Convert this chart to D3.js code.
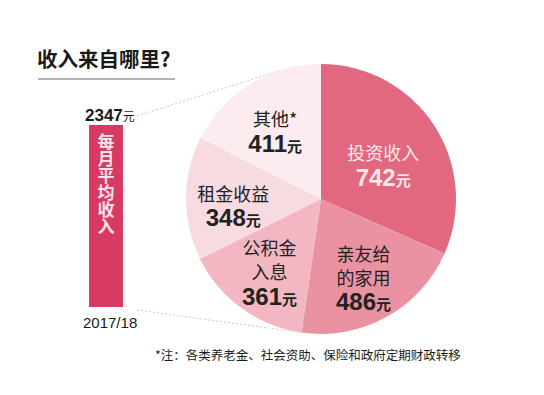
<!DOCTYPE html>
<html><head><meta charset="utf-8">
<script src="https://cdn.jsdelivr.net/npm/d3@7"></script>
<style>
html,body{margin:0;padding:0;background:#fff;}
svg{display:block;}
</style></head>
<body>
<script>
const title = "收入来自哪里?";
const totalLabel = "2347";
const totalValue = 2347;
const yearLabel = "2017/18";
const barLabel = "每月平均收入";
const categories = [["投资收入"], ["亲友给", "的家用"], ["公积金", "入息"], ["租金收益"], ["其他*"]];
const values = [742, 486, 361, 348, 411];
const colors = ["#e1687f", "#ea92a2", "#f2b7c2", "#f8dbe1", "#fcecef"];
const textColors = ["#fde9ed", "#222", "#222", "#222", "#222"];
const footnote = "*注：各类养老金、社会资助、保险和政府定期财政转移";

const W = 544, H = 395;
const cjk = "'Noto Sans CJK SC', sans-serif";
const num = "'Liberation Sans', Arial, sans-serif";
const svg = d3.select("body").append("svg").attr("width", W).attr("height", H);

// title
svg.append("text").attr("x", 37).attr("y", 67).text(title)
  .attr("font-family", cjk).attr("font-weight", 700).attr("font-size", 20.5).attr("fill", "#1a1a1a");
svg.append("line").attr("x1", 38).attr("x2", 175).attr("y1", 79).attr("y2", 79)
  .attr("stroke", "#9a9a9a").attr("stroke-width", 1.5);

// bar (total)
const barTop = 125, barBottom = 307, barX = 89, barW = 34;
const y = d3.scaleLinear().domain([0, totalValue]).range([barBottom, barTop]);

// pie geometry
const cx = 321, cy = 199, R = 135;

// dotted tangent lines
function tangent(px, py, upper) {
  const dx = cx - px, dy = cy - py;
  const d = Math.hypot(dx, dy);
  const base = Math.atan2(dy, dx);
  const off = Math.asin(R / d);
  const a = upper ? base - off : base + off;
  const L = Math.sqrt(d * d - R * R);
  return [px + L * Math.cos(a), py + L * Math.sin(a)];
}
const tTop = tangent(barX + barW + 14, y(totalValue) - 9, true);
const tBot = tangent(barX + barW + 14, y(0) + 3, false);
svg.append("line").attr("x1", barX + barW + 14).attr("y1", y(totalValue) - 9)
  .attr("x2", tTop[0]).attr("y2", tTop[1])
  .attr("stroke", "#c8c8c8").attr("stroke-width", 1).attr("stroke-dasharray", "2,2");
svg.append("line").attr("x1", barX + barW + 14).attr("y1", y(0) + 3)
  .attr("x2", tBot[0]).attr("y2", tBot[1])
  .attr("stroke", "#c8c8c8").attr("stroke-width", 1).attr("stroke-dasharray", "2,2");

svg.append("rect").attr("x", barX).attr("y", y(totalValue)).attr("width", barW)
  .attr("height", y(0) - y(totalValue)).attr("fill", "#d83a64");

const tl = svg.append("text").attr("x", 85).attr("y", 121)
  .attr("font-family", num).attr("font-weight", 700).attr("font-size", 17).attr("fill", "#1a1a1a");
tl.append("tspan").text(totalLabel);
tl.append("tspan").text("元").attr("font-family", cjk).attr("font-size", 12).attr("font-weight", 400);

svg.append("text").attr("x", 83).attr("y", 328).text(yearLabel)
  .attr("font-family", num).attr("font-size", 15).attr("fill", "#1a1a1a");

svg.append("text")
  .attr("x", barX + barW / 2).attr("y", 133)
  .style("writing-mode", "vertical-rl").style("text-orientation", "upright")
  .text(barLabel)
  .attr("font-family", cjk).attr("font-weight", 700).attr("font-size", 17).attr("fill", "#fbe3ea");

// pie
const pie = d3.pie().sort(null).value(d => d)(values);
const arc = d3.arc().innerRadius(0).outerRadius(R);
const g = svg.append("g").attr("transform", `translate(${cx},${cy})`);
g.selectAll("path").data(pie).join("path")
  .attr("d", arc).attr("fill", (d, i) => colors[i]);

// labels (one text element per slice, lines as tspans)
const labelArc = d3.arc().innerRadius(0).outerRadius(R * 1.3);
const labelArcFirst = d3.arc().innerRadius(0).outerRadius(R * 1.1);
pie.forEach((p, i) => {
  const c = (i === 0 ? labelArcFirst : labelArc).centroid(p);
  const lines = categories[i];
  const lh = 24;
  const first = c[1] + 2 - (lines.length - 1) * 17;
  const t = g.append("text").attr("text-anchor", "middle").attr("fill", textColors[i])
    .attr("font-family", cjk);
  lines.forEach((ln, j) => {
    t.append("tspan").attr("x", c[0]).attr("y", first + j * lh)
      .text(ln).attr("font-size", 18);
  });
  t.append("tspan").attr("x", c[0]).attr("y", first + (lines.length - 1) * lh + 25.5)
    .text(values[i]).attr("font-family", num).attr("font-weight", 700).attr("font-size", 24);
  t.append("tspan").text("元").attr("font-weight", 700).attr("font-size", 15);
});

// footnote
svg.append("text").attr("x", 155).attr("y", 360).text(footnote)
  .attr("font-family", cjk).attr("font-size", 12.5).attr("fill", "#1a1a1a");
</script>
</body></html>
